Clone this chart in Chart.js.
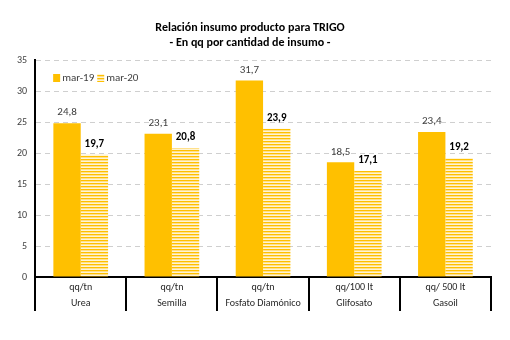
<!DOCTYPE html>
<html>
<head>
<meta charset="utf-8">
<script src="https://cdn.jsdelivr.net/npm/chart.js@4"></script>
<style>body{margin:0;background:#fff}</style>
</head>
<body>
<canvas id="insumoChart" width="510" height="340"></canvas>
<script>
// datos
var unidades = ['qq/tn', 'qq/tn', 'qq/tn', 'qq/100 lt', 'qq/ 500 lt'];
var insumos = ['Urea', 'Semilla', 'Fosfato Diamónico', 'Glifosato', 'Gasoil'];
var mar19 = [24.8, 23.1, 31.7, 18.5, 23.4];
var mar20 = [19.7, 20.8, 23.9, 17.1, 19.2];
var series = ['mar-19', 'mar-20'];

var fuente = 'Carlito, Lato, sans-serif';

// relleno rayado para mar-20
function rayado() {
    var c = document.createElement('canvas');
    c.width = 4; c.height = 3;
    var g = c.getContext('2d');
    g.fillStyle = '#FFC000'; g.fillRect(0, 0, 4, 1);
    g.fillStyle = '#FFE08A'; g.fillRect(0, 1, 4, 1);
    g.fillStyle = '#FFF4D4'; g.fillRect(0, 2, 4, 1);
    return g.createPattern(c, 'repeat');
}

// valores encima de las barras
var etiquetas = {
    id: 'etiquetas',
    afterDatasetsDraw: function(chart) {
        var ctx = chart.ctx;
        chart.data.datasets.forEach(function(ds, i) {
            var meta = chart.getDatasetMeta(i);
            meta.data.forEach(function(bar, j) {
                ctx.save();
                ctx.font = (i === 1 ? 'bold ' : '') + '11px ' + fuente;
                ctx.fillStyle = i === 1 ? '#000' : '#404040';
                ctx.textAlign = 'center';
                ctx.textBaseline = 'bottom';
                ctx.fillText(ds.data[j].toFixed(1).replace('.', ','), bar.x, bar.y - 5);
                ctx.restore();
            });
        });
    }
};

// separadores de categorias bajo el eje y leyenda dentro del area
var extras = {
    id: 'extras',
    afterDraw: function(chart) {
        var ctx = chart.ctx;
        var x = chart.scales.x;
        var area = chart.chartArea;
        ctx.save();
        ctx.strokeStyle = '#000';
        ctx.lineWidth = 2;
        for (var i = 0; i <= chart.data.labels.length; i++) {
            var px = Math.round(x.getPixelForValue(i - 0.5));
            ctx.beginPath();
            ctx.moveTo(px, area.bottom);
            ctx.lineTo(px, area.bottom + 34);
            ctx.stroke();
        }
        // leyenda
        ctx.font = '11px ' + fuente;
        ctx.textBaseline = 'middle';
        ctx.textAlign = 'left';
        var lx = area.left + 18;
        var ly = area.top + 18;
        chart.data.datasets.forEach(function(ds) {
            ctx.fillStyle = ds.backgroundColor;
            ctx.fillRect(lx, ly - 4, 7, 8);
            ctx.fillStyle = '#404040';
            ctx.fillText(ds.label, lx + 9, ly);
            lx += 9 + ctx.measureText(ds.label).width + 3;
        });
        ctx.restore();
    }
};

document.addEventListener("DOMContentLoaded", function() {
    var ctx = document.getElementById('insumoChart').getContext('2d');

    var insumoChart = new Chart(ctx, {
        type: 'bar',
        data: {
            labels: insumos.map(function(n, i) { return [unidades[i], n]; }),
            datasets: [{
                label: series[0],
                data: mar19,
                backgroundColor: '#FFC000',
                categoryPercentage: 0.6,
                barPercentage: 1
            }, {
                label: series[1],
                data: mar20,
                backgroundColor: rayado(),
                categoryPercentage: 0.6,
                barPercentage: 1
            }]
        },
        plugins: [etiquetas, extras],
        options: {
            responsive: false,
            animation: false,
            layout: { padding: { left: 9, right: 19, top: 4, bottom: 27 } },
            plugins: {
                title: {
                    display: true,
                    text: ['Relación insumo producto para TRIGO', '- En qq por cantidad de insumo -'],
                    color: '#000',
                    font: { family: fuente, size: 12, weight: 'bold', lineHeight: 1.25 },
                    padding: { top: 16, bottom: 10 }
                },
                legend: { display: false },
                tooltip: { enabled: false }
            },
            scales: {
                x: {
                    grid: { display: false, drawTicks: false },
                    border: { display: true, color: '#000', width: 2 },
                    ticks: {
                        padding: 2,
                        color: '#262626',
                        font: { family: fuente, size: 10, lineHeight: 1.6 },
                        maxRotation: 0,
                        autoSkip: false
                    }
                },
                y: {
                    min: 0,
                    max: 35,
                    ticks: {
                        stepSize: 5,
                        padding: 8,
                        color: '#404040',
                        font: { family: fuente, size: 10 }
                    },
                    grid: {
                        drawTicks: false,
                        color: '#CFCFCF',
                        lineWidth: 1
                    },
                    border: { display: true, color: '#000', width: 2, dash: [5, 4] }
                }
            }
        }
    });
});
</script>
</body>
</html>
